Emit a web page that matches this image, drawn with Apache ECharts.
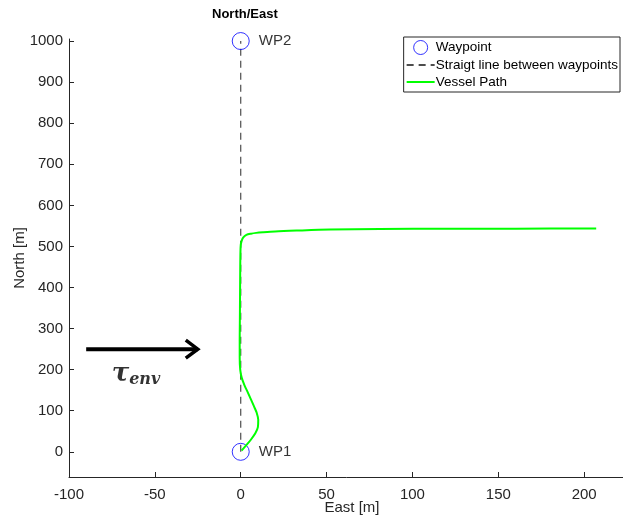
<!DOCTYPE html>
<html>
<head>
<meta charset="utf-8">
<script src="https://cdn.jsdelivr.net/npm/echarts@6/dist/echarts.min.js"></script>
<style>
html,body{margin:0;padding:0;background:#fff;}
#chart{width:623px;height:523px;}
</style>
</head>
<body>
<div id="chart"></div>
<script>
// ---- data ----
const xTicks = [-100, -50, 0, 50, 100, 150, 200];
const yTicks = [0, 100, 200, 300, 400, 500, 600, 700, 800, 900, 1000];
const waypointNames = ['WP1', 'WP2'];
const waypointEast = [0, 0];
const waypointNorth = [0, 1000];
const pathEast = [0.5, 3, 6, 8.5, 10, 10.2, 9.3, 7.8, 6, 4.3, 2.2, 0.6, -0.3, -0.6, -0.6, -0.5, -0.4, -0.3, -0.2, 0, 0.5, 1.5, 3.3, 6, 9, 13, 20, 32.5, 52, 81, 120, 160, 207];
const pathNorth = [3, 15, 30, 45, 60, 78, 95, 110, 127, 143, 162, 180, 200, 230, 270, 320, 380, 440, 480, 503, 513, 522, 528, 531, 533, 534.5, 536.5, 538.5, 541, 542.5, 543, 543.3, 543.5];
const arrowEast = [-90, -25];
const arrowNorth = [250, 250];
const arrowHeadEast = [-32, -25, -32];
const arrowHeadNorth = [272, 250, 228];
const tauPos = [-61, 190];

const font = "'Liberation Sans', Helvetica, Arial, sans-serif";
const axisCol = '#262626';

const chart = echarts.init(document.getElementById('chart'), null, {renderer: 'canvas'});
const zip = (a, b) => a.map((v, i) => [v, b[i]]);

const option = {
  animation: false,
  backgroundColor: '#fff',
  title: {
    text: 'North/East',
    left: 207, top: 3,
    textStyle: {fontFamily: font, fontSize: 13, fontWeight: 'bold', color: '#000'}
  },
  grid: {left: 69, right: -12, top: 39, bottom: 46, containLabel: false, outerBoundsMode: 'none'},
  legend: {
    orient: 'vertical',
    right: 3, top: 37,
    data: [
      {name: 'Waypoint', itemStyle: {borderWidth: 1}},
      {name: 'Straigt line between waypoints', itemStyle: {opacity: 0}},
      {name: 'Vessel Path', itemStyle: {opacity: 0}}
    ],
    backgroundColor: '#fff',
    borderColor: axisCol, borderWidth: 1, borderRadius: 0,
    padding: [3, 2, 3, 2],
    itemGap: 3,
    itemWidth: 28, itemHeight: 14,
    textStyle: {fontFamily: font, fontSize: 13.5, color: '#000', padding: [0, 0, 0, -4]}
  },
  xAxis: {
    type: 'value', min: -100, max: 229.6,
    name: 'East [m]', nameLocation: 'middle', nameGap: 23, nameMoveOverlap: false,
    nameTextStyle: {fontFamily: font, fontSize: 15, color: axisCol},
    axisLine: {show: true, onZero: false, lineStyle: {color: axisCol, width: 1}},
    axisTick: {show: true, inside: true, length: 5, customValues: xTicks, lineStyle: {color: axisCol}},
    axisLabel: {customValues: xTicks, margin: 10, fontFamily: font, fontSize: 15, color: axisCol, formatter: v => String(v)},
    splitLine: {show: false}
  },
  yAxis: {
    type: 'value', min: -61.3, max: 1005,
    name: 'North [m]', nameLocation: 'middle', nameGap: 42, nameMoveOverlap: false,
    nameTextStyle: {fontFamily: font, fontSize: 15, color: axisCol},
    axisLine: {show: true, onZero: false, lineStyle: {color: axisCol, width: 1}},
    axisTick: {show: true, inside: true, length: 5, customValues: yTicks, lineStyle: {color: axisCol}},
    axisLabel: {customValues: yTicks, margin: 6, fontFamily: font, fontSize: 15, color: axisCol, formatter: v => String(v)},
    splitLine: {show: false}
  },
  series: [
    {
      name: 'Waypoint', type: 'scatter',
      data: waypointNames.map((n, i) => ({name: n, value: [waypointEast[i], waypointNorth[i]]})),
      symbol: 'circle', symbolSize: 17,
      itemStyle: {color: 'rgba(255,255,255,0)', borderColor: '#0000ff', borderWidth: 1},
      label: {show: true, position: 'right', distance: 9, formatter: p => p.name,
              fontFamily: font, fontSize: 15, color: '#000'},
      z: 3
    },
    {
      name: 'Straigt line between waypoints', type: 'line',
      data: zip(waypointEast, waypointNorth),
      symbol: 'none',
      lineStyle: {color: '#4d4d4d', width: 1.2, type: [7, 5]},
      z: 2
    },
    {
      name: 'Vessel Path', type: 'line',
      data: zip(pathEast, pathNorth),
      symbol: 'none', smooth: 0.3,
      lineStyle: {color: '#00ff00', width: 2},
      z: 4
    },
    {
      name: 'arrow', type: 'line',
      data: zip(arrowEast, arrowNorth),
      symbol: 'none',
      lineStyle: {color: '#000', width: 4},
      silent: true
    },
    {
      name: 'arrowhead', type: 'line',
      data: zip(arrowHeadEast, arrowHeadNorth),
      symbol: 'none',
      lineStyle: {color: '#000', width: 3.5, join: 'miter', cap: 'butt'},
      silent: true
    },
    {
      name: 'tau', type: 'scatter',
      data: [tauPos],
      symbolSize: 0,
      label: {
        show: true, position: 'inside',
        formatter: '{t|τ}{s|env}',
        rich: {
          t: {fontFamily: "'DejaVu Serif', serif", fontSize: 26, fontStyle: 'italic', fontWeight: 'bold', color: '#000'},
          s: {fontFamily: "'DejaVu Serif', serif", fontSize: 16, fontStyle: 'italic', fontWeight: 'bold', color: '#000', padding: [12, 0, 0, 0]}
        }
      },
      silent: true
    }
  ]
};
chart.setOption(option);
</script>
</body>
</html>
